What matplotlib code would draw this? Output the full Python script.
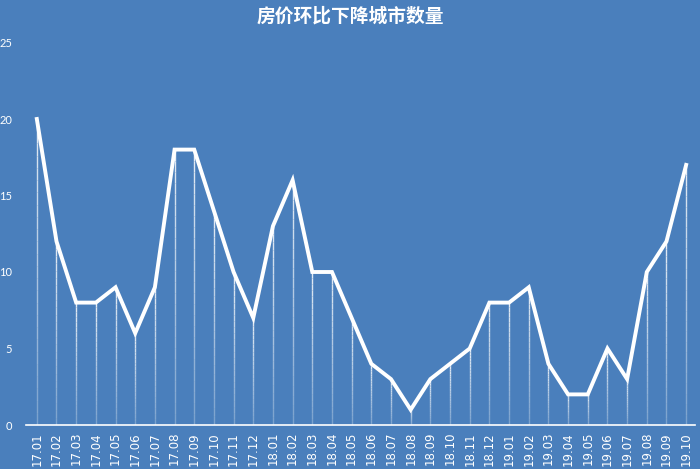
import numpy as np
import matplotlib.pyplot as plt
from matplotlib.collections import LineCollection

plt.rcParams['font.family'] = ['Noto Sans CJK SC', 'DejaVu Sans']

# data
months = ['17.01', '17.02', '17.03', '17.04', '17.05', '17.06', '17.07', '17.08', '17.09',
          '17.10', '17.11', '17.12', '18.01', '18.02', '18.03', '18.04', '18.05', '18.06',
          '18.07', '18.08', '18.09', '18.10', '18.11', '18.12', '19.01', '19.02', '19.03',
          '19.04', '19.05', '19.06', '19.07', '19.08', '19.09', '19.10']
counts = [20, 12, 8, 8, 9, 6, 9, 18, 18, 14, 10, 7, 13, 16, 10, 10, 7, 4,
          3, 1, 3, 4, 5, 8, 8, 9, 4, 2, 2, 5, 3, 10, 12, 17]
title = '房价环比下降城市数量'
bg = '#4a7fbc'

fig = plt.figure(figsize=(7, 4.69), dpi=100, facecolor=bg)
ax = fig.add_axes([26 / 700, 1 - 425 / 469, 669 / 700, (425 - 42.5) / 469])
ax.set_facecolor(bg)

x = np.arange(len(months))

# drop lines, fading towards the bottom
segs, cols = [], []
n_steps = 25
for xi, yi in zip(x, counts):
    ys = np.linspace(yi, 0, n_steps + 1)
    for k in range(n_steps):
        segs.append([(xi, ys[k]), (xi, ys[k + 1])])
        cols.append((1, 1, 1, 0.85 - 0.6 * k / n_steps))
ax.add_collection(LineCollection(segs, colors=cols, linewidths=1.0))

ax.plot(x, counts, color='white', lw=2.8, solid_joinstyle='miter', zorder=3)

ax.set_xlim(-0.55, len(months) - 0.55)
ax.set_ylim(0, 25)
ax.set_yticks(range(0, 26, 5))
ax.set_xticks(x)
ax.set_xticklabels(months, rotation=90, fontsize=8.5, color='white', family='DejaVu Sans')
for lab in ax.get_yticklabels():
    lab.set_color('white')
    lab.set_fontsize(8)
    lab.set_family('Lato')
ax.tick_params(axis='both', length=0)
ax.tick_params(axis='y', pad=10)
ax.tick_params(axis='x', pad=5)
for s in ['top', 'right', 'left']:
    ax.spines[s].set_visible(False)
ax.spines['bottom'].set_color('white')
ax.spines['bottom'].set_linewidth(1.2)

fig.text(0.5, 1 - 16 / 469, title, ha='center', va='center', color='white',
         fontsize=13.5, fontweight='bold')

fig.savefig('out.png', facecolor=bg)
